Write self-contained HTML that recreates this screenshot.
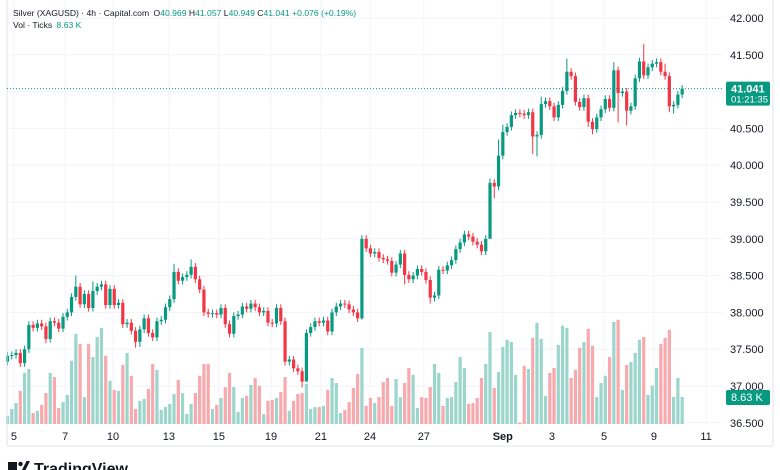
<!DOCTYPE html>
<html><head><meta charset="utf-8">
<style>
html,body{margin:0;padding:0;background:#fff;}
body{width:780px;height:470px;overflow:hidden;position:relative;font-family:"Liberation Sans",sans-serif;}
svg{position:absolute;left:0;top:0;}
</style></head>
<body>
<svg id="chart" width="780" height="470" xmlns="http://www.w3.org/2000/svg">
  <g id="grid"></g>
  <g id="vol"></g>
  <g id="candles"></g>
  <g id="axes"></g>
  <text x="13" y="16" font-size="8.6" fill="#131722">Silver (XAGUSD) · 4h · Capital.com <tspan dx="2">O</tspan><tspan fill="#089981">40.969</tspan> <tspan>H</tspan><tspan fill="#089981">41.057</tspan> <tspan>L</tspan><tspan fill="#089981">40.949</tspan> <tspan>C</tspan><tspan fill="#089981">41.041 +0.076 (+0.19%)</tspan></text>
  <text x="13" y="28" font-size="8.6" fill="#131722">Vol · Ticks <tspan dx="2" fill="#089981">8.63 K</tspan></text>
  <g>
    <rect x="8" y="462" width="9" height="8" fill="#131722"/>
    <circle cx="20.5" cy="464" r="2.2" fill="#131722"/>
    <polygon points="22,470 26.5,461 30,461 25.5,470" fill="#131722"/>
    <text x="34" y="474" font-size="16" font-weight="bold" fill="#131722">TradingView</text>
  </g>
</svg>
<script>
const closes=[37.41,37.42,37.45,37.31,37.50,37.83,37.79,37.85,37.81,37.64,
37.88,37.86,37.78,37.94,38.00,38.21,38.35,38.11,38.25,38.06,
38.29,38.35,38.38,38.10,38.32,38.10,38.13,37.84,37.86,37.75,
37.60,37.77,37.92,37.72,37.66,37.88,37.90,38.07,38.18,38.55,
38.43,38.48,38.51,38.62,38.45,38.31,38.00,37.98,37.99,37.97,
38.06,37.84,37.71,37.95,37.97,38.08,38.05,38.12,38.07,38.00,
38.02,37.86,37.85,38.06,37.88,37.33,37.36,37.24,37.20,37.06,
37.72,37.80,37.88,37.86,37.89,37.74,38.00,38.08,38.12,38.11,
38.04,38.00,37.92,39.00,38.87,38.80,38.82,38.74,38.72,38.70,
38.54,38.65,38.80,38.51,38.45,38.50,38.59,38.55,38.44,38.20,
38.23,38.58,38.57,38.64,38.71,38.86,38.95,39.06,39.03,38.96,
38.92,38.83,39.00,39.76,39.71,40.13,40.45,40.52,40.68,40.71,
40.70,40.68,40.72,40.39,40.41,40.83,40.87,40.80,40.65,40.82,
41.01,41.27,41.21,40.86,40.79,40.91,40.59,40.49,40.65,40.76,
40.90,40.78,41.29,40.98,41.00,40.74,40.80,41.18,41.41,41.22,
41.33,41.38,41.40,41.27,41.21,40.80,40.82,40.96,41.04];
const firstOpen=37.33;
const volumes=[2.6,4.8,6.7,10.6,16.3,17.6,3.5,4.2,6.1,9.9,
16.3,15.0,5.1,7.0,9.3,20.2,28.8,25.6,8.6,25.6,
21.4,27.8,30.7,21.8,13.8,10.9,10.6,18.9,22.7,15.4,
4.8,7.4,8.0,11.2,19.2,17.3,4.5,5.4,6.4,9.6,
14.1,9.9,3.2,6.4,9.9,15.4,19.2,19.2,4.8,6.1,
8.3,11.8,16.3,11.8,3.8,8.3,9.0,12.5,14.7,12.2,
3.2,7.4,7.7,8.3,10.2,15.0,4.2,7.4,9.6,9.9,
12.8,4.8,5.4,5.4,5.8,10.9,14.7,13.1,3.5,4.5,
7.0,11.5,16.0,24.3,5.8,8.3,6.7,8.6,13.4,14.7,
5.8,14.4,8.6,13.1,17.9,15.7,5.1,8.6,8.3,11.8,
19.2,16.3,5.8,8.3,8.6,13.4,21.4,17.9,6.4,6.7,
8.3,14.7,19.2,29.4,11.5,16.6,24.6,26.9,26.2,15.7,
0.5,18.6,17.6,27.5,32.3,27.2,9.0,16.3,17.9,25.3,
31.4,30.7,14.7,17.3,24.3,26.2,30.4,25.0,8.6,13.1,
15.4,21.4,32.6,33.3,10.9,18.9,19.8,22.7,26.9,27.8,
9.3,12.2,17.9,25.6,27.5,30.1,8.6,14.7,8.63];
const highs={16:38.50,39:38.66,43:38.72,83:39.05,113:39.82,115:40.35,116:40.55,125:40.93,131:41.45,142:41.40,148:41.46,149:41.65,152:41.45,154:41.38,36:37.95,20:38.42};
const lows={9:37.58,30:37.52,31:37.53,65:37.28,69:36.98,70:37.06,83:37.90,93:38.38,99:38.12,113:39.70,114:39.55,123:40.15,124:40.12,136:40.52,137:40.42,143:40.58,145:40.54,155:40.72,156:40.70};
const priceTicks=[42,41.5,41,40.5,40,39.5,39,38.5,38,37.5,37,36.5];
const timeLabels=["5","7","10","13","15","19","21","24","27","Sep","3","5","9","11"];
const timeTickBars=[1.5,13.5,24.7,37.8,49.5,61.7,73.4,84.9,97.5,116,127.5,139.7,151.4,163.6];
const lastPrice=41.041, lastVol=8.63;

const NS="http://www.w3.org/2000/svg";
const plotL=7,plotR=722,plotB=424;
const yP=p=>18+(42-p)*73.6;
const xB=i=>7.5+4.27*i;
const yV=v=>424-v*3.13;
const UP="#089981",DN="#f23645",VUP="#9bd5cb",VDN="#f8a9ad";
function mk(tag,attrs,parent){const e=document.createElementNS(NS,tag);for(const k in attrs)e.setAttribute(k,attrs[k]);parent.appendChild(e);return e;}
const grid=document.getElementById('grid'),vol=document.getElementById('vol'),cg=document.getElementById('candles'),ax=document.getElementById('axes');

priceTicks.forEach(p=>{
  const l=mk('line',{x1:plotL,x2:plotR,y1:yP(p),y2:yP(p),stroke:'#f0f3fa','stroke-width':1},grid);
  
  
  const t=mk('text',{x:730,y:yP(p)+4,'font-size':11,fill:'#131722'},ax);
  t.textContent=p.toFixed(3);
  
  
});
timeTickBars.forEach((b,k)=>{
  const x=xB(b);
  const l=mk('line',{x1:x,x2:x,y1:0,y2:plotB,stroke:'#f0f3fa','stroke-width':1},grid);
  
  
  const t=mk('text',{x:x,y:440,'font-size':11,fill:'#131722','text-anchor':'middle','font-weight':timeLabels[k]==='Sep'?'bold':'normal'},ax);
  t.textContent=timeLabels[k];
  
  
});
mk('line',{x1:plotL,x2:plotL,y1:0,y2:446,stroke:'#e0e3eb'},ax);
mk('line',{x1:plotL,x2:773,y1:446,y2:446,stroke:'#e0e3eb'},ax);
mk('line',{x1:773,x2:773,y1:0,y2:446,stroke:'#e0e3eb'},ax);

closes.forEach((c,i)=>{
  const o=i===0?firstOpen:closes[i-1];
  const up=c>=o;
  const x=xB(i);
  const hi=highs[i]!==undefined?highs[i]:Math.max(o,c)+0.05;
  const lo=lows[i]!==undefined?lows[i]:Math.min(o,c)-0.05;
  const vb=mk('rect',{x:x-1.6,y:yV(volumes[i]),width:3.2,height:424-yV(volumes[i]),fill:up?VUP:VDN},vol);
  
  
  const w=mk('line',{x1:x,x2:x,y1:yP(hi),y2:yP(lo),stroke:up?UP:DN,'stroke-width':1},cg);
  
  
  const top=yP(Math.max(o,c)),bot=yP(Math.min(o,c));
  const b=mk('rect',{x:x-1.6,y:top,width:3.2,height:Math.max(1,bot-top),fill:up?UP:DN},cg);
  
  
});

const pl=mk('line',{x1:plotL,x2:plotR,y1:yP(lastPrice),y2:yP(lastPrice),stroke:UP,'stroke-width':1,'stroke-dasharray':'1,2'},ax);


const pb=mk('rect',{x:726,y:yP(lastPrice)-7,width:44,height:24,fill:UP,rx:2},ax);


const pt=mk('text',{x:731,y:yP(lastPrice)+4,'font-size':11,'font-weight':'bold',fill:'#fff'},ax);pt.textContent=lastPrice.toFixed(3);


const ct=mk('text',{x:731,y:yP(lastPrice)+14,'font-size':9.5,fill:'#fff'},ax);ct.textContent='01:21:35';


const vbx=mk('rect',{x:726,y:yV(lastVol)-7,width:44,height:15,fill:UP,rx:2},ax);


const vt=mk('text',{x:731,y:yV(lastVol)+4,'font-size':11,fill:'#fff'},ax);vt.textContent=lastVol.toFixed(2)+' K';


</script>
</body></html>
